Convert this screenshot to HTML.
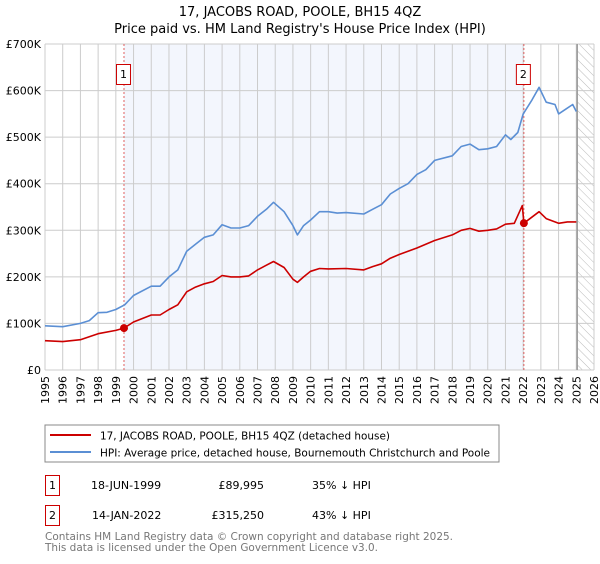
<!DOCTYPE html>
<html><head><meta charset="utf-8"><style>
body{margin:0;background:#fff;font-family:"DejaVu Sans","Liberation Sans",sans-serif;}
svg text{font-family:"DejaVu Sans","Liberation Sans",sans-serif;}
</style></head><body>
<svg id="c" width="600" height="560" viewBox="0 0 600 560">
<defs><pattern id="hatch" width="6" height="6" patternUnits="userSpaceOnUse" patternTransform="rotate(-45)"><line x1="0" y1="0" x2="0" y2="6" stroke="#bbb" stroke-width="1"/></pattern></defs>
<text x="300" y="16" text-anchor="middle" font-size="13">17, JACOBS ROAD, POOLE, BH15 4QZ</text>
<text x="300" y="33" text-anchor="middle" font-size="13">Price paid vs. HM Land Registry's House Price Index (HPI)</text>
<g id="plot"></g>
<rect x="45" y="425" width="454" height="37" fill="#fff" stroke="#888"/>
<line x1="50" y1="435" x2="91" y2="435" stroke="#cc0000" stroke-width="2"/>
<text x="100" y="439.5" font-size="11" textLength="290" lengthAdjust="spacingAndGlyphs">17, JACOBS ROAD, POOLE, BH15 4QZ (detached house)</text>
<line x1="50" y1="452" x2="91" y2="452" stroke="#5b8fd4" stroke-width="2"/>
<text x="100" y="456.5" font-size="11" textLength="390" lengthAdjust="spacingAndGlyphs">HPI: Average price, detached house, Bournemouth Christchurch and Poole</text>
<g>
<rect x="45.5" y="475.5" width="14" height="20" fill="none" stroke="#cc0000"/>
<text x="52.5" y="489" font-size="11" text-anchor="middle">1</text>
<text x="91" y="489" font-size="11">18-JUN-1999</text>
<text x="264" y="489" font-size="11" text-anchor="end">£89,995</text>
<text x="312" y="489" font-size="11">35% ↓ HPI</text></g>
<g>
<rect x="45.5" y="505.5" width="14" height="20" fill="none" stroke="#cc0000"/>
<text x="52.5" y="519" font-size="11" text-anchor="middle">2</text>
<text x="92" y="519" font-size="11">14-JAN-2022</text>
<text x="264" y="519" font-size="11" text-anchor="end">£315,250</text>
<text x="312" y="519" font-size="11">43% ↓ HPI</text></g>
<text x="45" y="540" font-size="11" fill="#777" textLength="408" lengthAdjust="spacingAndGlyphs">Contains HM Land Registry data © Crown copyright and database right 2025.</text>
<text x="45" y="551" font-size="11" fill="#777" textLength="333" lengthAdjust="spacingAndGlyphs">This data is licensed under the Open Government Licence v3.0.</text>
</svg>
<script>
const yearTicks=[1995,1996,1997,1998,1999,2000,2001,2002,2003,2004,2005,2006,2007,2008,2009,2010,2011,2012,2013,2014,2015,2016,2017,2018,2019,2020,2021,2022,2023,2024,2025,2026];
const valueTicks=[0,100,200,300,400,500,600,700];
const valueLabels=["£0","£100K","£200K","£300K","£400K","£500K","£600K","£700K"];
const hpiYears=[1995,1996,1997,1997.5,1998,1998.5,1999,1999.5,2000,2001,2001.5,2002,2002.5,2003,2003.5,2004,2004.5,2005,2005.5,2006,2006.5,2007,2007.5,2007.9,2008.5,2009,2009.25,2009.6,2010,2010.5,2011,2011.5,2012,2013,2013.5,2014,2014.5,2015,2015.5,2016,2016.5,2017,2018,2018.5,2019,2019.5,2020,2020.5,2021,2021.3,2021.7,2022,2022.5,2022.9,2023.3,2023.8,2024,2024.4,2024.8,2025];
const hpiValues=[95,93,100,106,123,124,130,140,160,180,180,200,215,255,270,285,290,312,305,305,310,330,345,360,340,310,290,310,322,340,340,337,338,335,345,355,378,390,400,420,430,450,460,480,485,473,475,480,505,495,510,550,580,607,575,570,550,560,570,555];
const propYears=[1995,1996,1997,1998,1999,1999.46,2000,2001,2001.5,2002,2002.5,2003,2003.5,2004,2004.5,2005,2005.5,2006,2006.5,2007,2007.5,2007.9,2008.5,2009,2009.25,2009.6,2010,2010.5,2011,2012,2013,2013.5,2014,2014.5,2015,2016,2017,2018,2018.5,2019,2019.5,2020,2020.5,2021,2021.5,2021.95,2022.04,2022.9,2023.3,2024,2024.5,2025];
const propValues=[63,61,65,78,85,90,103,118,118,130,140,168,178,185,190,203,200,200,202,215,225,233,220,195,188,200,212,218,217,218,215,222,228,240,248,262,278,290,300,304,298,300,303,313,315,353,315.25,340,325,315,318,318];
const saleYears=[1999.46,2022.04];
const saleValues=[89.995,315.25];
const saleLabels=["1","2"];
const X0=45,X1=594,Y0=370,Y1=44;
const xs=y=>X0+(y-1995)/(2026-1995)*(X1-X0);
const ys=v=>Y0-v/700*(Y0-Y1);
const g=document.getElementById('plot');const NS="http://www.w3.org/2000/svg";
function mk(t,a,p){const e=document.createElementNS(NS,t);for(const k in a)e.setAttribute(k,a[k]);(p||g).appendChild(e);return e;}
let e;
e=mk('rect',{x:xs(saleYears[0]),y:Y1,width:xs(saleYears[1])-xs(saleYears[0]),height:Y0-Y1,fill:'#f3f6fd'});


const hx=xs(2025.05);
e=mk('rect',{x:hx,y:Y1,width:X1-hx,height:Y0-Y1,fill:'url(#hatch)'});


yearTicks.forEach(y=>{e=mk('line',{x1:xs(y),x2:xs(y),y1:Y1,y2:Y0,stroke:'#ccc','stroke-width':1});


e=mk('text',{x:0,y:0,'font-size':11,'text-anchor':'end',transform:`translate(${xs(y)+4},${Y0+6}) rotate(-90)`});e.textContent=y;

});
valueTicks.forEach((v,i)=>{e=mk('line',{x1:X0,x2:X1,y1:ys(v),y2:ys(v),stroke:'#ccc','stroke-width':1});


e=mk('text',{x:X0-4,y:ys(v)+4,'font-size':11,'text-anchor':'end'});e.textContent=valueLabels[i];

});
e=mk('line',{x1:hx,x2:hx,y1:Y1,y2:Y0,stroke:'#999','stroke-width':1.5});


saleYears.forEach((y,i)=>{e=mk('line',{x1:xs(y),x2:xs(y),y1:Y1,y2:Y0,stroke:'#e06060','stroke-dasharray':'2,2','stroke-width':1});


e=mk('rect',{x:xs(y)-7.5,y:64.5,width:14,height:20,fill:'#fff',stroke:'#cc0000'});


e=mk('text',{x:xs(y)-0.5,y:78,'font-size':11,'text-anchor':'middle'});e.textContent=saleLabels[i];

});
function line(xa,va,c,n){e=mk('polyline',{points:xa.map((y,i)=>xs(y).toFixed(1)+','+ys(va[i]).toFixed(1)).join(' '),fill:'none',stroke:c,'stroke-width':1.6,'stroke-linejoin':'round'});

}
line(hpiYears,hpiValues,'#5b8fd4','hpi-line');
line(propYears,propValues,'#cc0000','property-line');
saleYears.forEach((y,i)=>{e=mk('circle',{cx:xs(y),cy:ys(saleValues[i]),r:4,fill:'#cc0000'});

});
</script>
</body></html>
